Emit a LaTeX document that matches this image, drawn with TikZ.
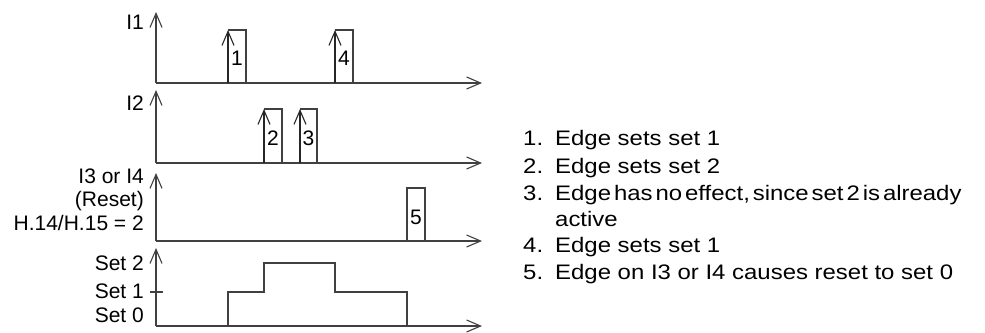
\documentclass[tikz,border=0pt]{standalone}
\usepackage{fontspec}
\setmainfont{Liberation Sans}
\newfontfamily\legendfont[FakeStretch=1.14]{Liberation Sans}
\usetikzlibrary{arrows.meta,positioning}

\begin{document}
\begin{tikzpicture}[x=1pt, y=-1pt,
  axis/.style={draw=black!75, line width=1.1pt,
               -{Straight Barb[length=14pt,width=12pt,line width=1.1pt]}},
  rise/.style={draw=black!85, line width=1.6pt,
               -{Straight Barb[length=14pt,width=12pt,line width=1.1pt]}},
  pulse/.style={draw=black!75, line width=1.1pt},
  sig/.style={font=\fontsize{21}{25}\selectfont, anchor=base east, inner sep=0pt},
  num/.style={font=\fontsize{21}{25}\selectfont, anchor=base, inner sep=0pt},
  item/.style={font=\legendfont\fontsize{21}{25}\selectfont, anchor=base west, inner sep=0pt}
]
\useasboundingbox (0,0) rectangle (985,332);

% four time axes
\foreach \i/\top/\base in {1/12/83, 2/90/163, 3/173/241, 4/248/326} {
  \coordinate (o\i) at (156,\base);
  \coordinate (t\i) at (156,\top);
  \coordinate (e\i) at (482,\base);
  \draw[axis] (o\i) -- (t\i);
  \draw[axis] (o\i) -- (e\i);
}

% signal names
\node[sig] (nI1) at (144,29) {I1};
\node[sig] (nI2) at (144,110) {I2};
\node[sig] (nI3) at (144,183) {I3 or I4};
\node[sig] (nrst) at (144,206) {(Reset)};
\node[sig] (nH) at (144,230) {H.14/H.15 = 2};
\node[sig] (ns2) at (144,270) {Set 2};
\node[sig] (ns1) at (144,298) {Set 1};
\node[sig] (ns0) at (144,322) {Set 0};

% pulses on I1
\draw[pulse] (228,30) -- (246,30) -- (246,83);
\draw[rise] (228,83) -- (228,30);
\node[num] (p1) at (237,65) {1};
\draw[pulse] (335,30) -- (353,30) -- (353,83);
\draw[rise] (335,83) -- (335,30);
\node[num] (p4) at (344,65) {4};

% pulses on I2
\draw[pulse] (264,109) -- (282,109) -- (282,163);
\draw[rise] (264,163) -- (264,109);
\node[num] (p2) at (273,145) {2};
\draw[pulse] (300,109) -- (317,109) -- (317,163);
\draw[rise] (300,163) -- (300,109);
\node[num] (p3) at (308.5,145) {3};

% reset pulse
\draw[pulse] (407,241) -- (407,188) -- (425,188) -- (425,241);
\node[num] (p5) at (416,224) {5};

% active set
\draw[pulse] (150,292) -- (163,292);
\draw[pulse] (228,326) -- (228,292) -- (264,292) -- (264,263) -- (335,263)
  -- (335,292) -- (407,292) -- (407,326);

% legend
\node[item] (k1) at (523,145) {1.};
\node[item] (d1) at (555,145) {Edge sets set 1};
\node[item] (k2) at (523,173) {2.};
\node[item] (d2) at (555,173) {Edge sets set 2};
\node[item] (k3) at (523,200) {3.};
\node[item] (d3) at (555,200) {\spaceskip=0.14em Edge has no effect, since set 2 is already};
\node[item] (d3b) at (555,226) {active};
\node[item] (k4) at (523,252) {4.};
\node[item] (d4) at (555,252) {Edge sets set 1};
\node[item] (k5) at (523,279) {5.};
\node[item] (d5) at (555,279) {Edge on I3 or I4 causes reset to set 0};
\end{tikzpicture}
\end{document}
